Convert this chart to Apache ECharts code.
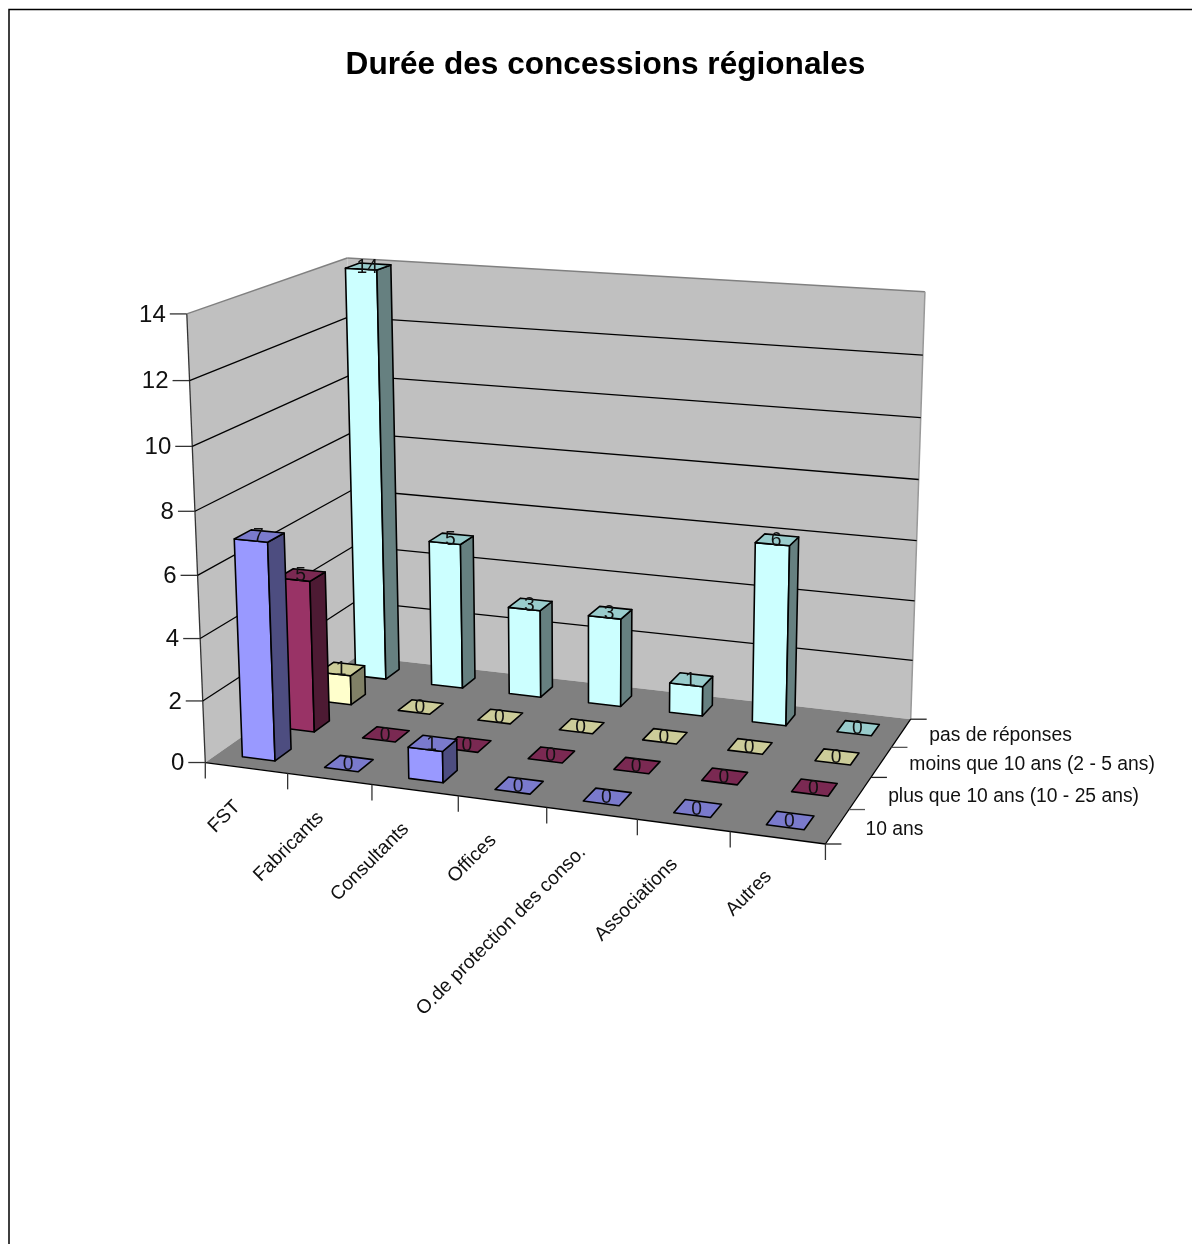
<!DOCTYPE html>
<html>
<head>
<meta charset="utf-8">
<style>html,body{margin:0;padding:0;background:#fff}#chart{width:1192px;height:1244px}</style>
<script src="https://cdn.jsdelivr.net/npm/echarts@6/dist/echarts.min.js"></script>
</head>
<body>
<div id="chart"></div>
<script>
// Values
const titleText = 'Durée des concessions régionales';
const categories = ['FST', 'Fabricants', 'Consultants', 'Offices', 'O.de protection des conso.', 'Associations', 'Autres'];
const depthLabels = ['10 ans', 'plus que 10 ans (10 - 25 ans)', 'moins que 10 ans (2 - 5 ans)', 'pas de réponses'];
const yTicks = [0, 2, 4, 6, 8, 10, 12, 14];
const dixAns = [7, 0, 1, 0, 0, 0, 0];
const plusQue10 = [5, 0, 0, 0, 0, 0, 0];
const moinsQue10 = [1, 0, 0, 0, 0, 0, 0];
const pasDeReponses = [14, 5, 3, 3, 1, 6, 0];

// Face colours per row: front, side, top
const rowColors = [
  ['#9999FF', '#4D4D80', '#7A7ACC'],
  ['#993366', '#4D1A33', '#7A2952'],
  ['#FFFFCC', '#808066', '#CCCC99'],
  ['#CCFFFF', '#668080', '#99CCCC']
];

// Camera: fits a 3x4 projective matrix to the box corners (u along categories, v in depth, w up)
const boxCorners = [
  [0, 0, 0, 205.5, 762], [1, 0, 0, 825, 845], [1, 1, 0, 911, 718], [0, 1, 0, 357, 657],
  [0, 0, 1, 187, 313.5], [0, 1, 1, 347, 258], [1, 1, 1, 925, 292]
];
function fitCamera(pts) {
  const n = 11, rows = [], rhs = [];
  pts.forEach(([u, v, w, x, y]) => {
    const X = x / 1000, Y = y / 1000;
    rows.push([u, v, w, 1, 0, 0, 0, 0, -X * u, -X * v, -X * w]); rhs.push(X);
    rows.push([0, 0, 0, 0, u, v, w, 1, -Y * u, -Y * v, -Y * w]); rhs.push(Y);
  });
  const A = [];
  for (let i = 0; i < n; i++) {
    A.push(new Array(n + 1).fill(0));
    for (let j = 0; j < n; j++) rows.forEach(r => { A[i][j] += r[i] * r[j]; });
    rows.forEach((r, k) => { A[i][n] += r[i] * rhs[k]; });
  }
  for (let c = 0; c < n; c++) {
    let p = c;
    for (let r = c + 1; r < n; r++) if (Math.abs(A[r][c]) > Math.abs(A[p][c])) p = r;
    [A[c], A[p]] = [A[p], A[c]];
    for (let r = 0; r < n; r++) {
      if (r === c) continue;
      const f = A[r][c] / A[c][c];
      for (let k = c; k <= n; k++) A[r][k] -= f * A[c][k];
    }
  }
  return A.map((r, i) => r[n] / r[i]);
}
const cam = fitCamera(boxCorners);
function project(u, v, w) {
  const d = cam[8] * u + cam[9] * v + cam[10] * w + 1;
  return [
    1000 * (cam[0] * u + cam[1] * v + cam[2] * w + cam[3]) / d,
    1000 * (cam[4] * u + cam[5] * v + cam[6] * w + cam[7]) / d
  ];
}

// Hidden cartesian scale that turns category index and value into unit box coordinates
const G = { left: 100, top: 100, width: 700, height: 700 };
function unitU(api, i) { return (api.coord([i, 0])[0] - G.left) / G.width; }
function unitW(api, val) { return (G.top + G.height - api.coord([0, val])[1]) / G.height; }

const LABEL_FONT = '19.3px "Liberation Sans", Arial, sans-serif';
const AXIS_FONT = '24px "Liberation Sans", Arial, sans-serif';
const BAR_RATIO = 0.4;
const BORDER = '#000';

function poly(points, fill, lw) {
  return { type: 'polygon', shape: { points }, style: { fill, stroke: BORDER, lineWidth: lw || 1.6, lineJoin: 'round' } };
}
function line(a, b, stroke, lw) {
  return { type: 'line', shape: { x1: a[0], y1: a[1], x2: b[0], y2: b[1] }, style: { stroke, lineWidth: lw || 1.3 } };
}
function text(str, p, font, align, rot) {
  return {
    type: 'text', x: p[0], y: p[1], rotation: rot || 0,
    style: { text: str, fill: '#111', font, textAlign: align, textVerticalAlign: 'middle' }
  };
}

// One 3D column: front, right side and top, with the value over its top
function barRenderer(rowIndex) {
  const [front, side, top] = rowColors[rowIndex];
  return function (params, api) {
    const i = api.value(0), val = api.value(1);
    const bandU = api.size([1, 0])[0] / G.width;
    const cu = unitU(api, i), hu = bandU * BAR_RATIO / 2;
    const cv = (rowIndex + 0.5) / depthLabels.length, hv = BAR_RATIO / depthLabels.length / 2;
    const w = unitW(api, val);
    const u0 = cu - hu, u1 = cu + hu, v0 = cv - hv, v1 = cv + hv;
    const children = [];
    if (val > 0) {
      children.push(poly([project(u0, v0, 0), project(u1, v0, 0), project(u1, v0, w), project(u0, v0, w)], front));
      children.push(poly([project(u1, v0, 0), project(u1, v1, 0), project(u1, v1, w), project(u1, v0, w)], side));
    }
    children.push(poly([project(u0, v0, w), project(u1, v0, w), project(u1, v1, w), project(u0, v1, w)], top));
    const centre = project(cu, cv, w);
    children.push(text(String(val), [centre[0] - 1, centre[1] + 1], LABEL_FONT, 'center'));
    return { type: 'group', children };
  };
}

// Walls, floor and depth ticks with the row names
function renderBox() {
  const c = (u, v, w) => project(u, v, w);
  const children = [
    { type: 'polygon', shape: { points: [c(0, 0, 0), c(0, 1, 0), c(0, 1, 1), c(0, 0, 1)] }, style: { fill: '#C0C0C0' } },
    { type: 'polygon', shape: { points: [c(0, 1, 0), c(1, 1, 0), c(1, 1, 1), c(0, 1, 1)] }, style: { fill: '#C0C0C0' } },
    { type: 'polygon', shape: { points: [c(0, 0, 0), c(1, 0, 0), c(1, 1, 0), c(0, 1, 0)] }, style: { fill: '#808080' } },
    line(c(0, 0, 0), c(0, 0, 1), '#333'),
    line(c(0, 0, 1), c(0, 1, 1), '#808080', 1.5),
    line(c(0, 1, 1), c(1, 1, 1), '#808080', 1.5),
    line(c(1, 1, 1), c(1, 1, 0), '#999', 1.5),
    line(c(0, 0, 0), c(1, 0, 0), BORDER),
    line(c(1, 0, 0), c(1, 1, 0), BORDER)
  ];
  depthLabels.forEach((name, d) => {
    const n = depthLabels.length;
    const a = c(1, d / n, 0);
    children.push(line(a, [a[0] + 16, a[1]], d % 2 ? '#555' : '#222'));
    const m = c(1, (d + 0.5) / n, 0);
    children.push(text(name, [m[0] + 28, m[1] + 3], LABEL_FONT, 'left'));
    if (d === n - 1) {
      const b = c(1, 1, 0);
      children.push(line(b, [b[0] + 16, b[1]], '#222'));
    }
  });
  return { type: 'group', children };
}

// Gridlines along both walls, plus the value ticks and labels
function renderYTick(params, api) {
  const val = api.value(1), w = unitW(api, val);
  const a = project(0, 0, w), b = project(0, 1, w), e = project(1, 1, w);
  const children = [line(a, [a[0] - 17, a[1]], '#333'), text(String(val), [a[0] - 21, a[1] + 1], AXIS_FONT, 'right')];
  if (val > 0 && val < yTicks[yTicks.length - 1]) {
    children.push(line(a, b, BORDER), line(b, e, BORDER));
  }
  return { type: 'group', children };
}

// Category ticks hanging off the front edge and slanted names
function renderCategory(params, api) {
  const i = api.value(0);
  const cu = unitU(api, i), bandU = api.size([1, 0])[0] / G.width;
  const a = project(cu - bandU / 2, 0, 0), m = project(cu, 0, 0);
  const children = [line(a, [a[0], a[1] + 16], '#333'), text(categories[i], [m[0] - 9, m[1] + 36], LABEL_FONT, 'right', Math.PI / 4)];
  if (i === categories.length - 1) {
    const b = project(cu + bandU / 2, 0, 0);
    children.push(line(b, [b[0], b[1] + 16], '#333'));
  }
  return { type: 'group', children };
}

const rows = [dixAns, plusQue10, moinsQue10, pasDeReponses];
const frameBase = { type: 'custom', silent: true, animation: false, clip: false };
const barSeries = rows.map((values, r) => ({
  r, values
})).reverse().map(({ r, values }) => Object.assign({}, frameBase, {
  name: depthLabels[r],
  renderItem: barRenderer(r),
  encode: { x: 0, y: 1 },
  data: values.map((v, i) => [i, v])
}));

const chart = echarts.init(document.getElementById('chart'), null, { renderer: 'canvas' });
chart.setOption({
  animation: false,
  backgroundColor: '#fff',
  title: {
    text: titleText, left: 600.5, top: 44, textAlign: 'center',
    textStyle: { fontFamily: '"Liberation Sans", Arial, sans-serif', fontWeight: 'bold', fontSize: 31.6, color: '#000' }
  },
  grid: G,
  xAxis: { type: 'category', data: categories, show: false },
  yAxis: { type: 'value', min: 0, max: 14, interval: 2, show: false },
  tooltip: { show: false },
  graphic: [{
    type: 'polyline', silent: true,
    shape: { points: [[9, 1244], [9, 9.5], [1192, 9.5]] },
    style: { stroke: '#000', lineWidth: 1.5, fill: null }
  }],
  series: [
    Object.assign({}, frameBase, { name: 'box', renderItem: renderBox, data: [[0, 0]], encode: { x: 0, y: 1 } }),
    Object.assign({}, frameBase, { name: 'values', renderItem: renderYTick, data: yTicks.map(t => [0, t]), encode: { x: 0, y: 1 } }),
    Object.assign({}, frameBase, { name: 'categories', renderItem: renderCategory, data: categories.map((c, i) => [i, 0]), encode: { x: 0, y: 1 } })
  ].concat(barSeries)
});
</script>
</body>
</html>
